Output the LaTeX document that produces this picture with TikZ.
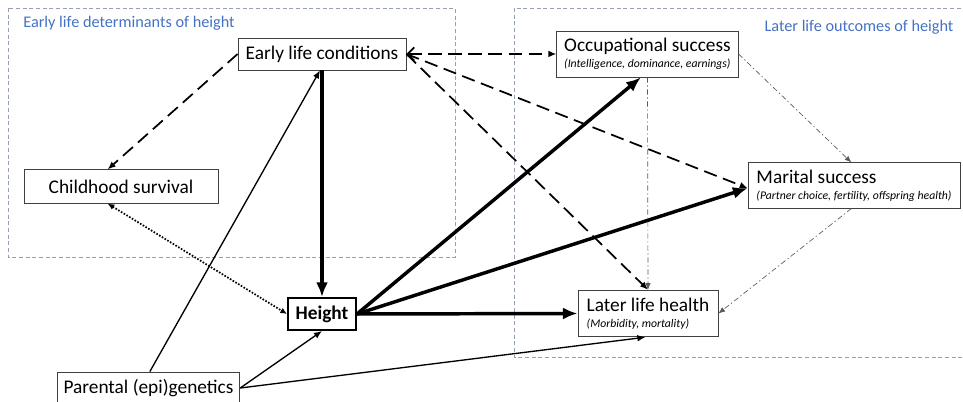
\documentclass[tikz,border=0pt]{standalone}
\usepackage{fontspec}
\setmainfont{Carlito}
\usetikzlibrary{arrows.meta}
\definecolor{hdblue}{RGB}{68,114,196}
\definecolor{regionc}{RGB}{150,160,178}
\newcommand{\subtxt}[1]{{\fontsize{8.8}{10}\selectfont\itshape #1}}

\begin{document}
\begin{tikzpicture}[x = 0.75pt, y = -0.75pt,
		box/.style = {draw = black!75, line width = 0.6pt, fill = white, inner sep = 2pt,
			font = \fontsize{14.5}{15}\selectfont},
		outc/.style = {box, align = left, font = \fontsize{14.5}{12}\selectfont},
		region/.style = {draw = regionc, line width = 0.5pt, dash pattern = on 3pt off 2pt},
		title/.style = {text = hdblue, font = \fontsize{12.2}{13}\selectfont},
		thin/.style = {line width = 1pt, -{Latex[length = 6pt, width = 5pt]}},
		strong/.style = {line width = 2.6pt, -{Latex[length = 11pt, width = 9pt]}},
		dsh/.style = {thin, line width = 1.3pt, dash pattern = on 10pt off 5pt},
		dtt/.style = {line width = 1.3pt, dash pattern = on 1.2pt off 1.2pt,
			{Latex[length = 5pt, width = 4.5pt]}-{Latex[length = 5pt, width = 4.5pt]}},
		dd/.style = {black!65, line width = 0.5pt, dash pattern = on 4pt off 2pt on 1pt off 2pt,
			-{Latex[length = 5pt, width = 4pt]}}]
		\useasboundingbox (0, 0) rectangle (963, 402);
		%%%%%%%%%%%%%
		\draw [region] (8, 8) rectangle (455, 257);
		\draw [region] (514, 8) rectangle (975, 357);
		\node [title] (tl) at (129, 23) {Early life determinants of height};
		\node [title] (tr) at (859, 27) {Later life outcomes of height};
		%%%%%%%%%%%%%
		\node [box, minimum width = 126pt, minimum height = 24pt] (elc) at (322, 54) {Early life conditions};
		\node [box, minimum width = 145.5pt, minimum height = 25pt] (cs) at (121, 186.5) {Childhood survival};
		\node [box, line width = 1.5pt, draw = black, minimum width = 51pt, minimum height = 24pt,
			font = \fontsize{14.5}{15}\selectfont\bfseries] (ht) at (322, 314) {Height};
		\node [box, minimum width = 137pt, minimum height = 24pt] (pg) at (148.5, 388) {Parental (epi)genetics};
		\node [outc, minimum width = 136pt, minimum height = 34.5pt] (occ) at (647.5, 54)
			{Occupational success\\\subtxt{(Intelligence, dominance, earnings)}};
		\node [outc, minimum width = 159pt, minimum height = 34pt] (mar) at (854, 185.5)
			{Marital success\\\subtxt{(Partner choice, fertility, offspring health)}};
		\node [outc, minimum width = 105pt, minimum height = 35pt] (llh) at (648, 313.5)
			{Later life health\\\subtxt{(Morbidity, mortality)}};
		%%%%%%%%%%%%%
		\draw [dsh] (elc.west) to ([xshift = -10pt]cs.north);
		\draw [dtt] ([xshift = -10pt]cs.south) to (ht.west);
		\draw [strong] (elc.south) to (ht.north);
		\draw [thin] ([xshift = 1pt]pg.north) to ([xshift = -1.5pt]elc.south);
		\draw [thin] (pg.east) to (ht.south);
		\draw [thin] (pg.east) to ([xshift = -2pt]llh.south);
		%%%%%%%%%%%%%
		\draw [dsh, {Straight Barb[length = 5pt, width = 10pt]}-{Latex[length = 6pt, width = 5pt]}] (elc.east) to (occ.west);
		\draw [dsh] (elc.east) to ([yshift = -2pt]mar.west);
		\draw [dsh] (elc.east) to (llh.north);
		\draw [strong] (ht.east) to ([xshift = -5pt]occ.south);
		\draw [strong] (ht.east) to ([yshift = -2pt]mar.west);
		\draw [strong] (ht.east) to (llh.west);
		%%%%%%%%%%%%%
		\draw [dd] (occ.south) to (llh.north);
		\draw [dd] (occ.east) to ([xshift = -2pt]mar.north);
		\draw [dd] ([xshift = -2pt]mar.south) to (llh.east);
\end{tikzpicture}
\end{document}
